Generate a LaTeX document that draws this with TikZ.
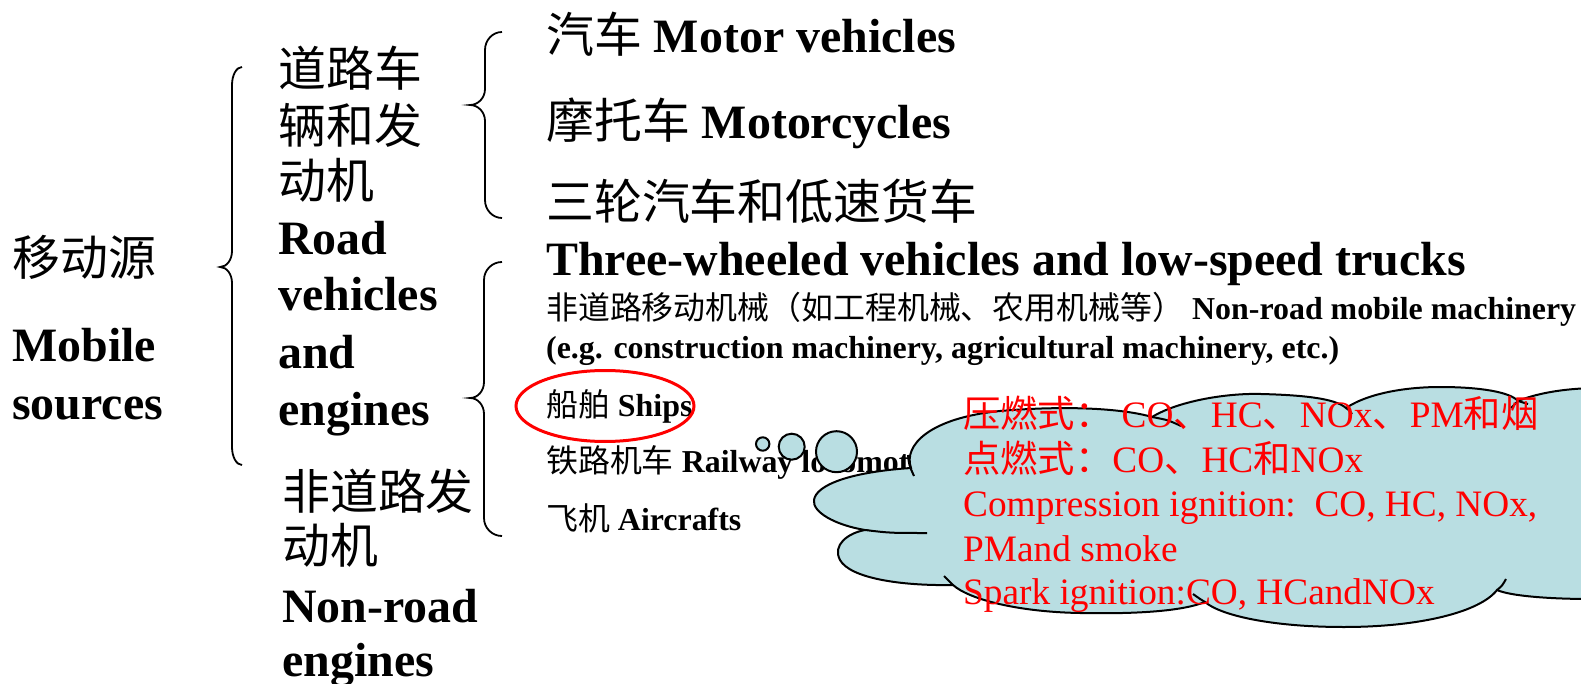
\documentclass[tikz,border=0pt]{standalone}
\usepackage{fontspec}
\setmainfont{Liberation Serif}
\newfontfamily\cjk{Noto Sans CJK SC}
\newcommand\zh[1]{{\cjk\mdseries #1}}
\definecolor{cloudc}{RGB}{185,222,226}
\begin{document}
\begin{tikzpicture}[x=1pt,y=-1pt,
  big/.style={anchor=base west,inner sep=0pt,font=\fontsize{47.9}{57}\selectfont\bfseries},
  small/.style={anchor=base west,inner sep=0pt,font=\fontsize{31.9}{38}\selectfont\bfseries},
  redt/.style={anchor=base west,inner sep=0pt,text=red,font=\fontsize{37.3}{44}\selectfont},
  bracepath/.style={line width=1.8pt},
  cloudline/.style={line width=2pt,draw=black}]
\useasboundingbox (0,0) rectangle (1581,684);
% left column
\node[big] (mobzh) at (12,276) {\zh{移动源}};
\node[big] (mob1) at (12,361) {Mobile};
\node[big] (mob2) at (12,419.5) {sources};
% middle column
\node[big] (rz1) at (278,87) {\zh{道路车}};
\node[big] (rz2) at (278,144) {\zh{辆和发}};
\node[big] (rz3) at (278,199) {\zh{动机}};
\node[big] (re1) at (278,255) {Road};
\node[big] (re2) at (278,311) {vehicles};
\node[big] (re3) at (278,368) {and};
\node[big] (re4) at (278,425) {engines};
\node[big] (nz1) at (282,509) {\zh{非道路发}};
\node[big] (nz2) at (282,563) {\zh{动机}};
\node[big] (ne1) at (282,622) {Non-road};
\node[big] (ne2) at (282,676) {engines};
% right column
\node[big] (motor) at (546,52.7) {\zh{汽车} Motor vehicles};
\node[big] (cycle) at (546,138.7) {\zh{摩托车} Motorcycles};
\node[big] (threez) at (546,219.5) {\zh{三轮汽车和低速货车}};
\node[big] (threee) at (546,275.3) {Three-wheeled vehicles and low-speed trucks};
\node[small] (mach1) at (546,319.6) {\zh{非道路移动机械（如工程机械、农用机械等）} Non-road mobile machinery};
\node[small] (mach2) at (546,358.5) {(e.g. construction machinery, agricultural machinery, etc.)};
\node[small] (ships) at (546,416) {\zh{船舶} Ships};
\node[small] (rail) at (546,472) {\zh{铁路机车} Railway locomotives};
\node[small] (air) at (546,530.3) {\zh{飞机} Aircrafts};
% braces
\draw[bracepath] (242,67) .. controls (236.5,67) and (232,75) .. (232,85) -- (232,251)
  .. controls (232,260) and (226.6,267) .. (220,267) .. controls (226.6,267) and (232,274) .. (232,283)
  -- (232,447) .. controls (232,457) and (236.5,465) .. (242,465);
\draw[bracepath] (502,32) .. controls (492.6,32) and (485,40) .. (485,50) -- (485,89)
  .. controls (485,98) and (478,105) .. (470,105) .. controls (478,105) and (485,112) .. (485,121)
  -- (485,200) .. controls (485,210) and (492.6,218) .. (502,218);
\draw[bracepath] (502,262) .. controls (492,262) and (484,270) .. (484,280) -- (484,382)
  .. controls (484,391) and (477.7,398) .. (470,398) .. controls (477.7,398) and (484,405) .. (484,414)
  -- (484,518) .. controls (484,528) and (492,536) .. (502,536);
% red ellipse
\draw[red,line width=3pt] (605,406) ellipse [x radius=89, y radius=35.5];
% bubbles and cloud
\begin{scope}
\clip (0,0) rectangle (1581,684);
\draw[cloudline,fill=cloudc] (762.7,444) circle [radius=6.7];
\draw[cloudline,fill=cloudc] (791.7,446.7) circle [radius=13];
\draw[cloudline,fill=cloudc] (836.5,451.7) circle [radius=20.5];
\draw[cloudline,fill=cloudc] (911,468)
  .. controls (903,445) and (930,418) .. (1000,411)
  .. controls (1070,405) and (1125,409) .. (1152,417)
  .. controls (1180,400) and (1230,393) .. (1261,394)
  .. controls (1300,395) and (1335,398) .. (1346,408)
  .. controls (1370,392) and (1410,387) .. (1440,387)
  .. controls (1480,387) and (1510,392) .. (1518,401)
  .. controls (1540,392) and (1570,388) .. (1600,388)
  -- (1640,388) -- (1640,600) -- (1590,599)
  .. controls (1550,599) and (1510,596) .. (1497,590)
  .. controls (1480,612) and (1420,627) .. (1344,627)
  .. controls (1270,627) and (1220,615) .. (1205,602)
  .. controls (1180,612) and (1130,614) .. (1080,613)
  .. controls (1020,612) and (970,600) .. (953,585)
  .. controls (900,586) and (850,578) .. (840,560)
  .. controls (832,545) and (848,533) .. (865,530)
  .. controls (835,525) and (812,512) .. (814,500)
  .. controls (816,485) and (850,472) .. (911,468) -- cycle;
% creases
\draw[cloudline] (908,455) .. controls (909,465) .. (914,476);
\draw[cloudline] (865,530) .. controls (890,533) .. (927,533);
\draw[cloudline] (953,585) .. controls (948,581) .. (944,576);
\draw[cloudline] (1205,602) .. controls (1200,599) .. (1193,594);
\draw[cloudline] (1497,590) .. controls (1502,586) .. (1506,579);
\draw[cloudline] (1152,417) .. controls (1168,420) .. (1181,426);
\draw[cloudline] (1346,408) .. controls (1349,410) .. (1352,414);
\draw[cloudline] (1518,401) -- (1511,408);
\draw[cloudline] (1518,401) -- (1528,404);
\end{scope}
% red text
\node[redt] (ci1) at (963,427) {\zh{压燃式：}\ CO\zh{、}HC\zh{、}NOx\zh{、}PM\zh{和烟}};
\node[redt] (si1) at (963,472) {\zh{点燃式：}CO\zh{、}HC\zh{和}NOx};
\node[redt] (ci2) at (963,516.5) {Compression ignition:\ \ CO, HC, NOx,};
\node[redt] (ci3) at (963,561) {PMand smoke};
\node[redt] (si2) at (963,604) {Spark ignition:CO, HCandNOx};
\end{tikzpicture}
\end{document}
